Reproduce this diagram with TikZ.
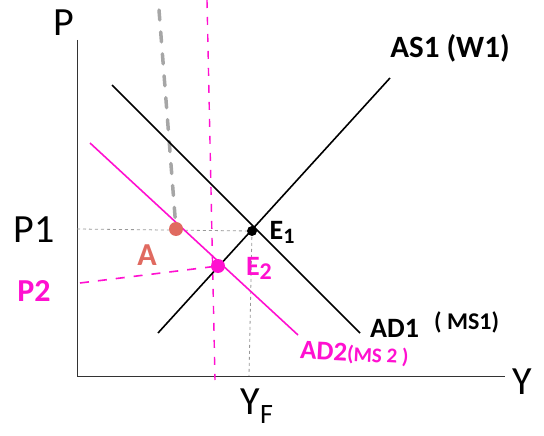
\documentclass[tikz,border=0pt]{standalone}
\usepackage{fontspec}
\setmainfont{Carlito}
\begin{document}
\begin{tikzpicture}[x=1pt,y=-1pt,
  axis/.style={line width=1pt, black!80},
  curve/.style={line width=1.6pt},
  pinkc/.style={line width=1.6pt, draw=mag},
  guide/.style={gray!80, dashed, line width=0.8pt},
  lab/.style={font=\fontsize{40}{42}\selectfont, inner sep=0pt},
  hand/.style={font=\bfseries\fontsize{28}{30}\selectfont, inner sep=0pt}]
\definecolor{mag}{HTML}{FF10D0}
\definecolor{salmon}{HTML}{E06A60}
\useasboundingbox (0,0) rectangle (544,436);
% axes
\coordinate (O) at (77,376);
\coordinate (Ytop) at (77,40);
\coordinate (Xend) at (505,376);
\draw[axis] (Ytop) -- (O) -- (Xend);
\node[lab] (P) at (64,23) {P};
\node[lab] (Y) at (522,382) {Y};
% points
\coordinate (E1) at (252,231);
\coordinate (E2) at (218,266);
\coordinate (A) at (176,229);
% guides
\coordinate (P1a) at (77,229);
\coordinate (YFa) at (249,376);
\draw[guide] (P1a) -- (E1);
\draw[guide] (E1) -- (YFa);
\coordinate (gtop) at (159,10);
\draw[gray!70, line width=3.5pt, dash pattern=on 10pt off 12pt, line cap=round] (gtop) -- (A);
\coordinate (ptop) at (207,0);
\coordinate (pbot) at (215,380);
\draw[mag, line width=1.4pt, dash pattern=on 8pt off 9pt] (ptop) -- (pbot);
\coordinate (P2a) at (80,283);
\draw[mag, line width=1.6pt, dash pattern=on 9pt off 9pt] (P2a) -- (E2);
% curves
\coordinate (AS1a) at (158,333);
\coordinate (AS1b) at (390,78);
\coordinate (AD1a) at (112,85);
\coordinate (AD1b) at (360,333);
\coordinate (AD2a) at (90,143);
\coordinate (AD2b) at (298,335);
\draw[curve] (AS1a) -- (AS1b);
\draw[curve] (AD1a) -- (AD1b);
\draw[pinkc] (AD2a) -- (AD2b);
% dots
\fill[black] (E1) circle (5pt);
\fill[mag] (E2) circle (7pt);
\fill[salmon] (A) circle (7pt);
% labels
\node[lab] (P1) at (34,230) {P1};
\node[hand, text=mag, font=\bfseries\fontsize{32}{34}\selectfont] (P2) at (34,291) {P2};
\node[lab] (YF) at (257,406) {Y\textsubscript{F}};
\node[hand, text=salmon, font=\bfseries\fontsize{32}{34}\selectfont] (Al) at (147,255) {A};
\node[hand] (E1l) at (282,232) {E\raisebox{-4pt}{\fontsize{22}{22}\selectfont 1}};
\node[hand, text=mag] (E2l) at (259,268) {E\raisebox{-4pt}{\fontsize{24}{24}\selectfont 2}};
\node[font=\bfseries\fontsize{31}{33}\selectfont, inner sep=0pt] (AS1l) at (450,48) {AS1 (W1)};
\node[font=\bfseries\fontsize{28}{30}\selectfont, anchor=west, inner sep=0pt] (AD1l) at (370,328) {AD1};
\node[font=\bfseries\fontsize{24}{26}\selectfont, anchor=west, inner sep=0pt] (MS1l) at (434,322) {( MS1)};
\node[hand, text=mag, anchor=west, rotate=-3, font=\bfseries\fontsize{27}{29}\selectfont] (AD2l) at (300,351) {AD2\fontsize{21}{21}\selectfont(MS 2 )};
\end{tikzpicture}
\end{document}
